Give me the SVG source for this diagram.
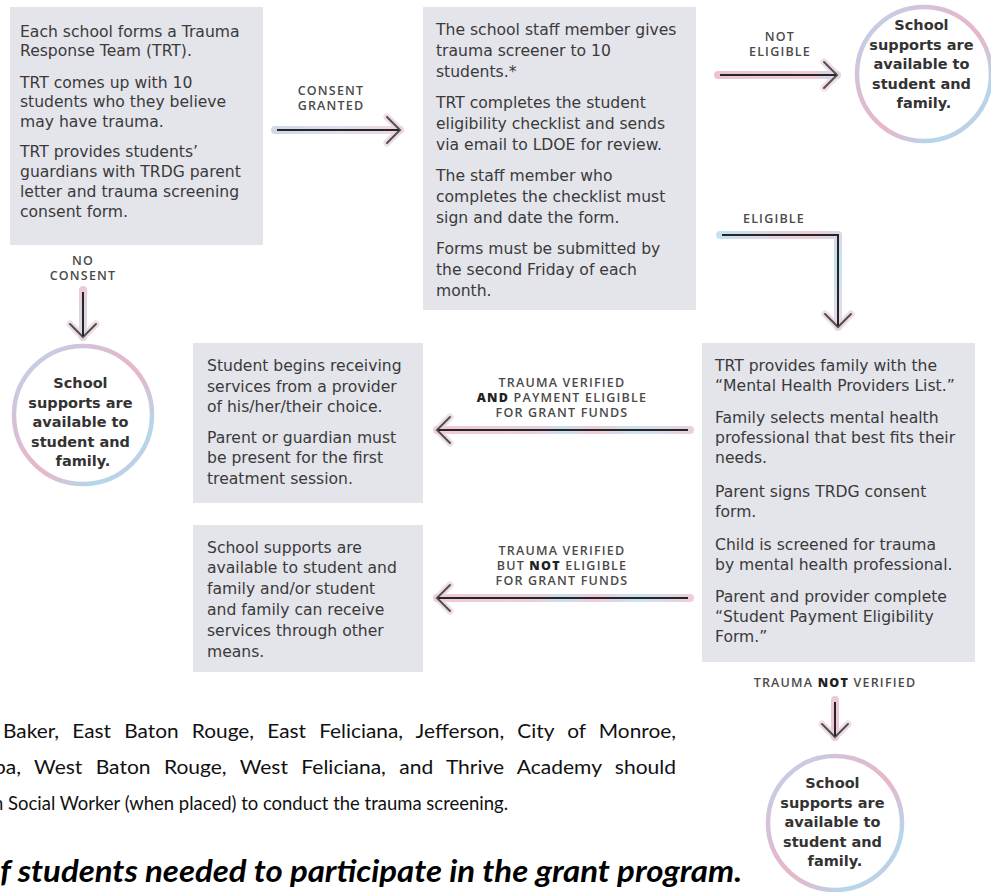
<svg xmlns="http://www.w3.org/2000/svg" width="991" height="892" viewBox="0 0 991 892">
<style>
.box{fill:#e4e4eb}
.bt{font-family:"DejaVu Sans",sans-serif;font-size:15.6px;fill:#3a3a3a}
.lbl{font-family:"Open Sans","DejaVu Sans",sans-serif;font-size:12.5px;font-weight:600;fill:#4a4a4a;text-anchor:middle;letter-spacing:1.2px}
.lbl .b{font-weight:800;fill:#222}
.ring{fill:#fff;stroke:url(#ring);stroke-width:4.5}
.ct{font-family:"DejaVu Sans",sans-serif;font-size:14.5px;font-weight:bold;fill:#333;text-anchor:middle}
.glow{fill:none;stroke-width:8;stroke-linecap:round;stroke-linejoin:round;opacity:.8}
.line{fill:none;stroke:#262626;stroke-width:2;stroke-linejoin:miter}
.note{font-family:Lato,"Liberation Sans",sans-serif;font-size:18.5px;fill:#111}
.big{font-family:Lato,"Liberation Sans",sans-serif;font-size:30px;font-weight:bold;font-style:italic;fill:#000}
</style>
<defs>
<linearGradient id="ring" x1="0" y1="0" x2="1" y2="1">
<stop offset="0" stop-color="#b7d8ee"/>
<stop offset="0.3" stop-color="#d8bfd6"/>
<stop offset="0.55" stop-color="#e8b6c9"/>
<stop offset="0.8" stop-color="#b4d7ec"/>
<stop offset="1" stop-color="#d6bfd8"/>
</linearGradient>
<linearGradient id="gC" gradientUnits="userSpaceOnUse" x1="275" y1="0" x2="400" y2="0">
<stop offset="0" stop-color="#c3cfe6"/><stop offset="0.5" stop-color="#d5d6ea"/><stop offset="1" stop-color="#eecbd8"/>
</linearGradient>
<linearGradient id="gNE" gradientUnits="userSpaceOnUse" x1="718" y1="0" x2="837" y2="0">
<stop offset="0" stop-color="#e9b5c9"/><stop offset="0.8" stop-color="#eebccd"/><stop offset="1" stop-color="#a9d8ef"/>
</linearGradient>
<linearGradient id="gNC" gradientUnits="userSpaceOnUse" x1="0" y1="290" x2="0" y2="337">
<stop offset="0" stop-color="#e8bfd0"/><stop offset="1" stop-color="#c8d2e6"/>
</linearGradient>
<linearGradient id="gE" gradientUnits="userSpaceOnUse" x1="720" y1="235" x2="838" y2="327">
<stop offset="0" stop-color="#b8dcef"/><stop offset="0.45" stop-color="#eebfd0"/><stop offset="0.75" stop-color="#b8dcef"/><stop offset="1" stop-color="#e6d0e0"/>
</linearGradient>
<linearGradient id="gT" gradientUnits="userSpaceOnUse" x1="437" y1="0" x2="690" y2="0">
<stop offset="0" stop-color="#eebdce"/><stop offset="0.4" stop-color="#e6c3d4"/><stop offset="0.5" stop-color="#b9d9f0"/><stop offset="0.62" stop-color="#efbccd"/><stop offset="0.78" stop-color="#bcdcf0"/><stop offset="1" stop-color="#e9c4d5"/>
</linearGradient>
<linearGradient id="gNV" gradientUnits="userSpaceOnUse" x1="0" y1="700" x2="0" y2="737">
<stop offset="0" stop-color="#e9bccd"/><stop offset="1" stop-color="#eab3c8"/>
</linearGradient>
<marker id="head" viewBox="-20 -20 26 40" refX="0" refY="0" markerWidth="26" markerHeight="40" markerUnits="userSpaceOnUse" orient="auto">
<path d="M-13,-13 L0,0 L-13,13" fill="none" stroke="#e6c6d5" stroke-width="7" stroke-linecap="round" stroke-linejoin="round" opacity=".75"/>
<path d="M-13,-13 L0,0 L-13,13" fill="none" stroke="#262626" stroke-width="2" stroke-linecap="round" stroke-linejoin="miter"/>
</marker>
</defs>

<g id="connectors">
<g id="e-consent">
<path class="glow" stroke="url(#gC)" d="M275,130 H400" marker-end="url(#head)"/>
<path class="line" d="M277,130 H399"/>
<text class="lbl"><tspan x="331" y="95">CONSENT</tspan><tspan x="331" y="110">GRANTED</tspan></text>
</g>
<g id="e-noteligible">
<path class="glow" stroke="url(#gNE)" d="M718,75 H837" marker-end="url(#head)"/>
<path class="line" d="M720,75 H836"/>
<text class="lbl"><tspan x="780" y="41">NOT</tspan><tspan x="780" y="56">ELIGIBLE</tspan></text>
</g>
<g id="e-noconsent">
<path class="glow" stroke="url(#gNC)" d="M83,290 V337" marker-end="url(#head)"/>
<path class="line" d="M83,292 V336"/>
<text class="lbl"><tspan x="83" y="265">NO</tspan><tspan x="83" y="280">CONSENT</tspan></text>
</g>
<g id="e-eligible">
<path class="glow" stroke="url(#gE)" d="M720,235 H838 V327" marker-end="url(#head)"/>
<path class="line" d="M722,235 H838 V326"/>
<text class="lbl" x="774" y="223">ELIGIBLE</text>
</g>
<g id="e-verified-eligible">
<path class="glow" stroke="url(#gT)" d="M690,430 H437" marker-end="url(#head)"/>
<path class="line" d="M688,430 H438"/>
<text class="lbl"><tspan x="562" y="387">TRAUMA VERIFIED</tspan><tspan x="562" y="402"><tspan class="b">AND</tspan> PAYMENT ELIGIBLE</tspan><tspan x="562" y="417">FOR GRANT FUNDS</tspan></text>
</g>
<g id="e-verified-noteligible">
<path class="glow" stroke="url(#gT)" d="M690,598 H437" marker-end="url(#head)"/>
<path class="line" d="M688,598 H438"/>
<text class="lbl"><tspan x="562" y="555">TRAUMA VERIFIED</tspan><tspan x="562" y="570">BUT <tspan class="b">NOT</tspan> ELIGIBLE</tspan><tspan x="562" y="585">FOR GRANT FUNDS</tspan></text>
</g>
<g id="e-notverified">
<path class="glow" stroke="url(#gNV)" d="M835,700 V737" marker-end="url(#head)"/>
<path class="line" d="M835,702 V736"/>
<text class="lbl" x="835" y="687">TRAUMA <tspan class="b">NOT</tspan> VERIFIED</text>
</g>
</g>

<g id="n-trt">
<rect class="box" x="10" y="7" width="253" height="238"/>
<text class="bt">
<tspan x="20" y="37">Each school forms a Trauma</tspan>
<tspan x="20" y="56">Response Team (TRT).</tspan>
<tspan x="20" y="88">TRT comes up with 10</tspan>
<tspan x="20" y="107">students who they believe</tspan>
<tspan x="20" y="127">may have trauma.</tspan>
<tspan x="20" y="157">TRT provides students’</tspan>
<tspan x="20" y="177">guardians with TRDG parent</tspan>
<tspan x="20" y="197">letter and trauma screening</tspan>
<tspan x="20" y="217">consent form.</tspan>
</text>
</g>

<g id="n-screener">
<rect class="box" x="423" y="7" width="273" height="303"/>
<text class="bt">
<tspan x="436" y="35">The school staff member gives</tspan>
<tspan x="436" y="56">trauma screener to 10</tspan>
<tspan x="436" y="77">students.*</tspan>
<tspan x="436" y="108">TRT completes the student</tspan>
<tspan x="436" y="129">eligibility checklist and sends</tspan>
<tspan x="436" y="150">via email to LDOE for review.</tspan>
<tspan x="436" y="181">The staff member who</tspan>
<tspan x="436" y="202">completes the checklist must</tspan>
<tspan x="436" y="223">sign and date the form.</tspan>
<tspan x="436" y="254">Forms must be submitted by</tspan>
<tspan x="436" y="275">the second Friday of each</tspan>
<tspan x="436" y="296">month.</tspan>
</text>
</g>

<g id="n-support-1">
<circle class="ring" cx="924" cy="74" r="67"/>
<text class="ct">
<tspan x="924" y="30">School</tspan>
<tspan x="924" y="49.5">supports are</tspan>
<tspan x="924" y="69">available to</tspan>
<tspan x="924" y="88.5">student and</tspan>
<tspan x="924" y="108">family.</tspan>
</text>
</g>

<g id="n-support-2">
<circle class="ring" cx="83" cy="415" r="69"/>
<text class="ct">
<tspan x="83" y="388">School</tspan>
<tspan x="83" y="407.5">supports are</tspan>
<tspan x="83" y="427">available to</tspan>
<tspan x="83" y="446.5">student and</tspan>
<tspan x="83" y="466">family.</tspan>
</text>
</g>

<g id="n-providers">
<rect class="box" x="702" y="343" width="273" height="319"/>
<text class="bt">
<tspan x="715" y="371">TRT provides family with the</tspan>
<tspan x="715" y="391">“Mental Health Providers List.”</tspan>
<tspan x="715" y="423">Family selects mental health</tspan>
<tspan x="715" y="443">professional that best fits their</tspan>
<tspan x="715" y="463">needs.</tspan>
<tspan x="715" y="497">Parent signs TRDG consent</tspan>
<tspan x="715" y="517">form.</tspan>
<tspan x="715" y="550">Child is screened for trauma</tspan>
<tspan x="715" y="570">by mental health professional.</tspan>
<tspan x="715" y="602">Parent and provider complete</tspan>
<tspan x="715" y="622">“Student Payment Eligibility</tspan>
<tspan x="715" y="642">Form.”</tspan>
</text>
</g>

<g id="n-services">
<rect class="box" x="193" y="343" width="230" height="160"/>
<text class="bt">
<tspan x="207" y="371">Student begins receiving</tspan>
<tspan x="207" y="392">services from a provider</tspan>
<tspan x="207" y="412">of his/her/their choice.</tspan>
<tspan x="207" y="443">Parent or guardian must</tspan>
<tspan x="207" y="463">be present for the first</tspan>
<tspan x="207" y="484">treatment session.</tspan>
</text>
</g>

<g id="n-other">
<rect class="box" x="193" y="525" width="230" height="147"/>
<text class="bt">
<tspan x="207" y="553">School supports are</tspan>
<tspan x="207" y="573">available to student and</tspan>
<tspan x="207" y="594">family and/or student</tspan>
<tspan x="207" y="615">and family can receive</tspan>
<tspan x="207" y="636">services through other</tspan>
<tspan x="207" y="657">means.</tspan>
</text>
</g>

<g id="n-support-3">
<circle class="ring" cx="835" cy="823" r="67"/>
<text class="ct">
<tspan x="835" y="788">School</tspan>
<tspan x="835" y="807.5">supports are</tspan>
<tspan x="835" y="827">available to</tspan>
<tspan x="835" y="846.5">student and</tspan>
<tspan x="835" y="866">family.</tspan>
</text>
</g>

<g id="footnote">
<text class="note" x="3" y="738" word-spacing="7" textLength="673" lengthAdjust="spacingAndGlyphs">Baker, East Baton Rouge, East Feliciana, Jefferson, City of Monroe,</text>
<text class="note" x="-6" y="774" word-spacing="7" textLength="682" lengthAdjust="spacingAndGlyphs">pa, West Baton Rouge, West Feliciana, and Thrive Academy should</text>
<text class="note" x="-7" y="810" textLength="515" lengthAdjust="spacingAndGlyphs">n Social Worker (when placed) to conduct the trauma screening.</text>
<text class="big" x="0" y="882" textLength="742" lengthAdjust="spacingAndGlyphs">f students needed to participate in the grant program.</text>
</g>
</svg>
